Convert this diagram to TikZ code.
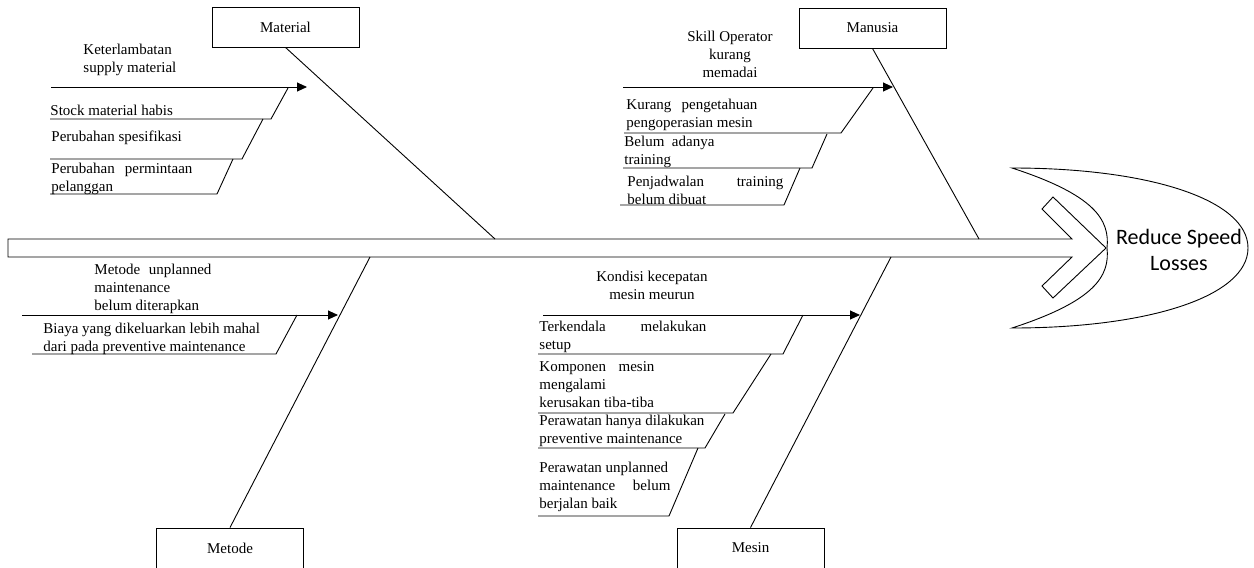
\documentclass[tikz,border=0pt]{standalone}
\usepackage{fontspec}
\setmainfont{Liberation Serif}
\newfontfamily\calib{Carlito}
\usetikzlibrary{arrows.meta}
\begin{document}
\begin{tikzpicture}[x=1pt,y=-1pt,line width=0.9pt,
  cbox/.style={draw, minimum width=147pt, minimum height=40pt, inner sep=0pt, font=\fontsize{15}{18}\selectfont},
  lbl/.style={inner sep=0pt, anchor=base west, align=left, font=\fontsize{15}{18}\selectfont},
  clbl/.style={inner sep=0pt, anchor=base, align=center, font=\fontsize{15}{18}\selectfont},
  sub/.style={-{Triangle[length=10pt,width=9pt]}},
]
\useasboundingbox (0,0) rectangle (1254,568);

% cause boxes
\node[cbox] (mat) at (285.5,27) {Material};
\node[cbox] (man) at (872.5,28) {Manusia};
\node[cbox] (met) at (230,548) {Metode};
\node[cbox] (mes) at (750.5,548) {Mesin};

% spine (arrow body with chevron head)
\draw (8,239) -- (1072,239) -- (1042,209) -- (1053,197) -- (1106,248)
      -- (1053,298) -- (1042,286) -- (1072,257) -- (8,257) -- cycle;

% fish head
\draw (1012,168) .. controls (1150,168) and (1248,200) .. (1248,248)
      .. controls (1248,296) and (1150,328) .. (1012,328)
      .. controls (1095,301) and (1110,276) .. (1107,248)
      .. controls (1110,220) and (1095,195) .. (1012,168) -- cycle;
\node[font=\calib\fontsize{22}{26}\selectfont, align=center, inner sep=0pt] (goal) at (1179,250) {Reduce Speed\\Losses};

% main bones
\coordinate (matj) at (495,239);
\coordinate (manj) at (979,239);
\coordinate (metj) at (370,257);
\coordinate (mesj) at (891,257);
\draw (mat.south) -- (matj);
\draw (man.south) -- (manj);
\draw (met.north) -- (metj);
\draw (mes.north) -- (mesj);

% sub arrows
\coordinate (maA) at (51,87);  \coordinate (maB) at (307,87);
\coordinate (muA) at (623,87); \coordinate (muB) at (893,87);
\coordinate (meA) at (22,315); \coordinate (meB) at (338,315);
\coordinate (msA) at (543,315);\coordinate (msB) at (860,315);
\draw[sub] (maA) -- (maB);
\draw[sub] (muA) -- (muB);
\draw[sub] (meA) -- (meB);
\draw[sub] (msA) -- (msB);

% sub bones - Material
\draw (50,119) -- (271,119) -- (288,88);
\draw (50,159) -- (242,159) -- (263,119);
\draw (50,194) -- (217,194) -- (233,159);
% sub bones - Manusia
\draw (624,133) -- (841,133) -- (873,88);
\draw (623,168) -- (812,168) -- (827,134);
\draw (620,205) -- (784,205) -- (800,168);
% sub bones - Metode
\draw (32,354) -- (276,354) -- (297,315);
% sub bones - Mesin
\draw (538,354) -- (783,354) -- (803,315);
\draw (538,413) -- (733,413) -- (771,354);
\draw (538,448) -- (705,448) -- (725,414);
\draw (538,516) -- (669,516) -- (698,448);

% labels (anchor = baseline of last line)
\node[lbl] (t1) at (83,72) {Keterlambatan\\supply material};
\node[lbl] (t2) at (50,115) {Stock material habis};
\node[lbl] (t3) at (51,141) {Perubahan spesifikasi};
\node[lbl] (t4) at (51,191) {\makebox[141pt][l]{Perubahan\hfill permintaan}\\pelanggan};
\node[clbl] (t5) at (730,77) {Skill Operator\\kurang\\memadai};
\node[lbl] (t6) at (626,127) {\makebox[131pt][l]{Kurang\hfill pengetahuan}\\pengoperasian mesin};
\node[lbl] (t7) at (624,164) {\makebox[90pt][l]{Belum\hfill adanya}\\training};
\node[lbl] (t8) at (627,204) {\makebox[156pt][l]{Penjadwalan\hfill training}\\belum dibuat};
\node[lbl] (t9) at (94,310) {\makebox[117pt][l]{Metode\hfill unplanned}\\maintenance\\belum diterapkan};
\node[lbl] (t10) at (43,351) {Biaya yang dikeluarkan lebih mahal\\dari pada preventive maintenance};
\node[clbl] (t11) at (652,299) {Kondisi kecepatan\\mesin meurun};
\node[lbl] (t12) at (539,349) {\makebox[167pt][l]{Terkendala\hfill melakukan}\\setup};
\node[lbl] (t13) at (539,407) {\makebox[115pt][l]{Komponen\hfill mesin}\\mengalami\\kerusakan tiba-tiba};
\node[lbl] (t14) at (539,443) {Perawatan hanya dilakukan\\preventive maintenance};
\node[lbl] (t15) at (539,508) {Perawatan unplanned\\\makebox[131pt][l]{maintenance\hfill belum}\\berjalan baik};
\end{tikzpicture}
\end{document}
